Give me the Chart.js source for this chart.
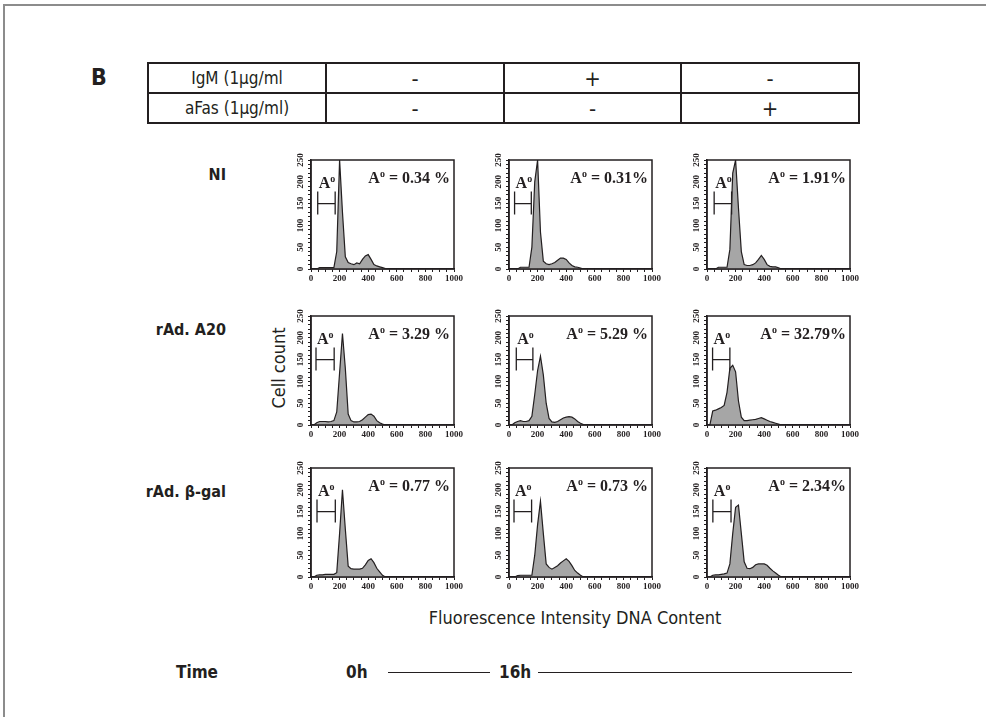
<!DOCTYPE html>
<html>
<head>
<meta charset="utf-8">
<title>DNA content histograms</title>
<script src="https://cdn.jsdelivr.net/npm/chart.js@4.4.1/dist/chart.umd.min.js"></script>
<style>
  body { margin: 0; background: #fff; }
  #page { position: relative; width: 986px; height: 717px; overflow: hidden;
          font-family: 'DejaVu Sans Condensed', 'Liberation Sans Narrow', sans-serif; color: #231f20; }
  .frame { position: absolute; left: 3px; top: 4px; width: 1000px; height: 800px;
           border-left: 2px solid #8c8c8c; border-top: 2px solid #8c8c8c; }
  .txt { position: absolute; white-space: nowrap; line-height: 22px; }
  .b { font-weight: bold; }
  .rowlab { position: absolute; width: 160px; left: 66px; text-align: right; font-weight: bold; font-size: 16px; line-height: 20px; }
  table.cond { position: absolute; left: 147px; top: 62px; border-collapse: collapse; font-size: 17px; table-layout: fixed; }
  table.cond td { border: 2px solid #231f20; height: 28px; padding: 0; text-align: center; }
  table.cond td.sign { font-size: 22px; }
  .rule { position: absolute; height: 0; border-top: 1.5px solid #231f20; }
  canvas.panel { position: absolute; }
</style>
</head>
<body>
<div id="page">
  <div class="frame"></div>
  <div class="txt b" style="left:91px; top:66px; font-size:23px;">B</div>
  <table class="cond">
    <colgroup><col style="width:178px"><col style="width:178px"><col style="width:177px"><col style="width:178px"></colgroup>
    <tr><td>IgM (1μg/ml</td><td class="sign">-</td><td class="sign">+</td><td class="sign">-</td></tr>
    <tr><td>aFas (1μg/ml)</td><td class="sign">-</td><td class="sign">-</td><td class="sign">+</td></tr>
  </table>
  <div class="rowlab" style="top:165px;">NI</div>
  <div class="rowlab" style="top:320px;">rAd. A20</div>
  <div class="rowlab" style="top:482px;">rAd. β-gal</div>
  <div class="txt" style="left:229px; top:357px; width:100px; text-align:center; font-size:18px; transform:rotate(-90deg);">Cell count</div>
  <div class="txt" style="left:380px; top:607px; width:390px; text-align:center; font-size:18px;">Fluorescence Intensity DNA Content</div>
  <div class="txt b" style="left:176px; top:661px; font-size:17px;">Time</div>
  <div class="txt b" style="left:346px; top:661px; font-size:17px;">0h</div>
  <div class="rule" style="left:388px; width:102px; top:672px;"></div>
  <div class="txt b" style="left:499px; top:661px; font-size:17px;">16h</div>
  <div class="rule" style="left:538px; width:314px; top:672px;"></div>
</div>
<script>
// channel (x) positions shared by every histogram
const channels = [0, 20, 40, 60, 80, 100, 120, 140, 160, 180, 200, 220, 240, 260,
                  280, 300, 320, 340, 360, 380, 400, 420, 440, 460, 480, 500, 520, 540];

// cell counts, row NI
const niCtrl = [0, 0, 0, 3, 3, 3, 3, 3, 3, 40, 250, 130, 28, 15, 12, 10, 14, 12, 22, 30, 33, 22, 10, 7, 5, 3, 1, 0];
const niIgM  = [0, 0, 0, 0, 4, 4, 4, 4, 50, 200, 250, 85, 18, 12, 10, 12, 15, 20, 25, 25, 22, 14, 8, 5, 4, 2, 0, 0];
const niFas  = [0, 0, 0, 0, 4, 4, 4, 4, 45, 220, 250, 140, 40, 10, 8, 8, 10, 14, 22, 31, 22, 10, 6, 5, 5, 3, 0, 0];
// row rAd. A20
const a20Ctrl = [0, 0, 5, 8, 8, 8, 7, 8, 10, 30, 120, 210, 130, 25, 10, 7, 7, 8, 12, 18, 24, 25, 20, 10, 5, 2, 0, 0];
const a20IgM  = [0, 0, 5, 8, 10, 8, 8, 10, 20, 70, 125, 158, 115, 50, 15, 7, 6, 8, 12, 16, 18, 19, 18, 14, 8, 4, 1, 0];
const a20Fas  = [0, 0, 32, 34, 37, 40, 45, 75, 130, 137, 122, 55, 18, 10, 10, 11, 12, 13, 15, 17, 14, 11, 8, 6, 4, 2, 0, 0];
// row rAd. beta-gal
const galCtrl = [0, 0, 4, 5, 5, 6, 6, 6, 6, 10, 100, 200, 110, 25, 19, 18, 18, 18, 20, 28, 38, 42, 33, 20, 12, 4, 0, 0];
const galIgM  = [0, 0, 0, 3, 4, 4, 4, 4, 4, 50, 120, 174, 100, 30, 22, 18, 22, 26, 32, 37, 42, 36, 26, 15, 9, 4, 0, 0];
const galFas  = [0, 0, 4, 5, 5, 6, 7, 9, 30, 100, 160, 165, 100, 35, 20, 19, 22, 28, 30, 30, 30, 27, 20, 14, 9, 4, 0, 0];

// A0 percentages, same order as panels
const apoPct = ['0.34 %', '0.31%', '1.91%', '3.29 %', '5.29 %', '32.79%', '0.77 %', '0.73 %', '2.34%'];
// A0 gate limits (channel)
const gateFrom = [47, 39, 50, 35, 51, 39, 42, 35, 41];
const gateTo   = [169, 156, 172, 162, 167, 160, 170, 158, 168];
const gateLow = 125, gateHigh = 178, gateLevel = 150;

const xTicks = [0, 200, 400, 600, 800, 1000];
const yTicks = [0, 50, 100, 150, 200, 250];

const series = [niCtrl, niIgM, niFas, a20Ctrl, a20IgM, a20Fas, galCtrl, galIgM, galFas];

// layout of the plot boxes
const colLeft = [311, 509, 707];
const rowTop = [160, 316, 468];
const plotW = 143, plotH = 109;
const padL = 25, padT = 8, padR = 12, padB = 17;

const ink = '#231f20';
const serif = "'Liberation Serif', 'DejaVu Serif', serif";

function drawA0(ctx, x, y, rest, alignRight) {
  ctx.font = 'bold 16px ' + serif;
  const wA = ctx.measureText('A').width;
  const wR = ctx.measureText(rest).width;
  ctx.font = 'bold 10px ' + serif;
  const wo = ctx.measureText('o').width;
  let sx = alignRight ? x - (wA + wo + wR) : x;
  ctx.textAlign = 'left';
  ctx.textBaseline = 'alphabetic';
  ctx.font = 'bold 16px ' + serif;
  ctx.fillText('A', sx, y);
  ctx.font = 'bold 10px ' + serif;
  ctx.fillText('o', sx + wA, y - 6);
  ctx.font = 'bold 16px ' + serif;
  ctx.fillText(rest, sx + wA + wo, y);
}

const panelMarks = {
  id: 'panelMarks',
  afterDatasetsDraw(chart, args, o) {
    const { ctx, chartArea: a, scales: { x, y } } = chart;
    ctx.save();
    ctx.strokeStyle = ink;
    ctx.fillStyle = ink;
    ctx.lineWidth = 1.5;
    ctx.strokeRect(a.left, a.top, a.width, a.height);

    const gl = x.getPixelForValue(o.from), gr = x.getPixelForValue(o.to);
    const gt = y.getPixelForValue(gateHigh), gb = y.getPixelForValue(gateLow);
    const gy = y.getPixelForValue(gateLevel);
    ctx.lineWidth = 1.3;
    ctx.beginPath();
    ctx.moveTo(gl, gt); ctx.lineTo(gl, gb);
    ctx.moveTo(gr, gt); ctx.lineTo(gr, gb);
    ctx.moveTo(gl, gy); ctx.lineTo(gr, gy);
    ctx.stroke();

    drawA0(ctx, gl + 1, gt - 3, '', false);
    drawA0(ctx, a.right - 4, a.top + 23, ' = ' + o.pct, true);
    ctx.restore();
  }
};

const page = document.getElementById('page');

series.forEach(function (vals, i) {
  const r = Math.floor(i / 3), c = i % 3;
  const cv = document.createElement('canvas');
  cv.className = 'panel';
  cv.width = plotW + padL + padR;
  cv.height = plotH + padT + padB;
  cv.style.left = (colLeft[c] - padL) + 'px';
  cv.style.top = (rowTop[r] - padT) + 'px';
  page.appendChild(cv);

  new Chart(cv, {
    type: 'line',
    data: {
      datasets: [{
        data: channels.map((ch, k) => ({ x: ch, y: vals[k] })),
        borderColor: ink,
        borderWidth: 1.2,
        backgroundColor: '#a6a6a6',
        fill: 'origin',
        pointRadius: 0,
        tension: 0
      }]
    },
    options: {
      responsive: false,
      animation: false,
      devicePixelRatio: 1,
      layout: { padding: { left: 0, top: padT, right: padR, bottom: 0 } },
      plugins: {
        legend: { display: false },
        tooltip: { enabled: false },
        panelMarks: { from: gateFrom[i], to: gateTo[i], pct: apoPct[i] }
      },
      scales: {
        x: {
          type: 'linear', min: 0, max: 1000,
          afterFit: s => { s.height = padB; },
          grid: { drawOnChartArea: false, tickLength: 3, color: ink },
          border: { color: ink, width: 1.5 },
          ticks: {
            stepSize: 50, autoSkip: false, maxRotation: 0, padding: 1,
            color: ink, font: { family: serif, size: 9, weight: 'bold' },
            callback: v => xTicks.includes(v) ? String(v) : ''
          }
        },
        y: {
          min: 0, max: 250,
          afterFit: s => { s.width = padL; },
          grid: { drawOnChartArea: false, tickLength: 3, color: ink },
          border: { color: ink, width: 1.5 },
          ticks: {
            stepSize: 10, autoSkip: false, minRotation: 90, maxRotation: 90,
            crossAlign: 'center', padding: 1,
            color: ink, font: { family: serif, size: 9, weight: 'bold' },
            callback: v => yTicks.includes(v) ? String(v) : ''
          }
        }
      }
    },
    plugins: [panelMarks]
  });
});
</script>
</body>
</html>
